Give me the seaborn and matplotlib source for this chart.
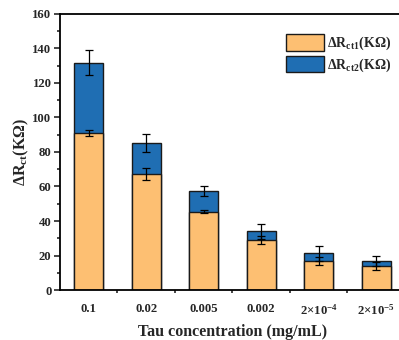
import numpy as np
import pandas as pd
import matplotlib
matplotlib.use('Agg')
import matplotlib.pyplot as plt
import seaborn as sns
from matplotlib.ticker import MultipleLocator, FixedLocator
from matplotlib.patches import Patch

# data
concentrations = ['0.1', '0.02', '0.005', '0.002', '2×10$^{\\mathbf{-4}}$', '2×10$^{\\mathbf{-5}}$']
rct1 = [91.0, 67.5, 45.5, 29.0, 17.0, 13.8]
rct1_err = [1.8, 3.5, 0.6, 2.2, 2.3, 2.3]
rct2 = [40.8, 17.7, 12.0, 5.0, 4.2, 3.0]
total_err = [7.4, 5.5, 3.0, 4.5, 4.3, 2.7]

orange = '#FDBF72'
blue = '#1F6EB3'

sns.set_style('ticks')
plt.rcParams['font.family'] = ['Liberation Serif', 'DejaVu Serif']
plt.rcParams['font.weight'] = 'bold'
plt.rcParams['mathtext.fontset'] = 'custom'
plt.rcParams['mathtext.rm'] = 'Liberation Serif:bold'
plt.rcParams['mathtext.bf'] = 'Liberation Serif:bold'
plt.rcParams['mathtext.it'] = 'Liberation Serif:italic:bold'

df = pd.DataFrame({
    'conc': concentrations,
    'rct1': rct1,
    'total': np.array(rct1) + np.array(rct2),
})

fig = plt.figure(figsize=(3.99, 3.40), dpi=100)
ax = fig.add_axes([0.150, 0.147, 0.865, 0.812])

sns.barplot(data=df, x='conc', y='total', color=blue, saturation=1,
            width=0.5, edgecolor='#1a1a1a', linewidth=1.0, ax=ax)
sns.barplot(data=df, x='conc', y='rct1', color=orange, saturation=1,
            width=0.5, edgecolor='#1a1a1a', linewidth=1.0, ax=ax)

xpos = np.arange(len(concentrations))
ax.errorbar(xpos, df['total'], yerr=total_err, fmt='none', ecolor='black',
            elinewidth=0.9, capsize=3, capthick=0.9, zorder=5)
ax.errorbar(xpos, df['rct1'], yerr=rct1_err, fmt='none', ecolor='black',
            elinewidth=0.9, capsize=3, capthick=0.9, zorder=5)

ax.set_xlim(-0.5, len(concentrations) - 0.5)
ax.set_ylim(0, 160)
ax.yaxis.set_major_locator(MultipleLocator(20))
ax.yaxis.set_minor_locator(MultipleLocator(10))
ax.xaxis.set_minor_locator(FixedLocator(xpos[:-1] + 0.5))

ax.tick_params(axis='y', which='major', direction='out', length=4, width=1.2,
               labelsize=9.2, pad=2)
ax.tick_params(axis='y', which='minor', direction='out', length=2, width=1.2)
ax.tick_params(axis='x', which='major', direction='in', length=3, width=1.2,
               labelsize=9.2, pad=9)
ax.tick_params(axis='x', which='minor', direction='out', length=2, width=1.2)
for lab in ax.get_xticklabels() + ax.get_yticklabels():
    lab.set_fontweight('bold')

for side in ['left', 'bottom', 'top', 'right']:
    ax.spines[side].set_linewidth(1.3)
    ax.spines[side].set_color('black')

ax.set_xlabel('Tau concentration (mg/mL)', fontsize=11.5, fontweight='bold', labelpad=5)
ax.set_ylabel('ΔR$_{\\mathbf{ct}}$(KΩ)', fontsize=11.5, fontweight='bold', labelpad=1)

handles = [
    Patch(facecolor=orange, edgecolor='#1a1a1a', linewidth=1.0),
    Patch(facecolor=blue, edgecolor='#1a1a1a', linewidth=1.0),
]
ax.legend(handles, ['ΔR$_{\\mathbf{ct1}}$(KΩ)', 'ΔR$_{\\mathbf{ct2}}$(KΩ)'],
          loc='upper left', bbox_to_anchor=(0.64, 0.948), frameon=False,
          prop={'family': 'Liberation Serif', 'weight': 'bold', 'size': 10},
          handlelength=2.7, handleheight=1.5, handletextpad=0.25, labelspacing=0.25,
          borderaxespad=0)

fig.savefig('out.png', dpi=100)
